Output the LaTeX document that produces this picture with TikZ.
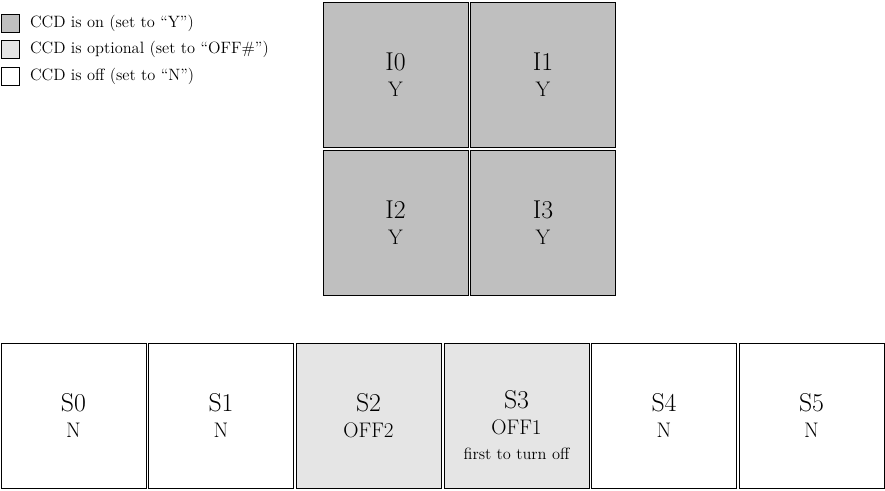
\documentclass[tikz,border=0pt]{standalone}
\begin{document}
\begin{tikzpicture}[x=0.03cm,y=-0.03cm,
 on/.style={draw,fill=black!25},
 opt/.style={draw,fill=black!10},
 off/.style={draw,fill=white},
 ccd/.style={minimum width=4.35cm,minimum height=4.35cm,inner sep=0pt,align=center,font=\fontsize{22}{24}\selectfont},
 leg/.style={minimum width=0.54cm,minimum height=0.54cm,inner sep=0pt},
 legt/.style={anchor=west,font=\fontsize{14}{16}\selectfont}]
\useasboundingbox (0,0) rectangle (885,490);
\newcommand{\sub}[1]{\\[-2pt]{\fontsize{18}{20}\selectfont #1}}
\node[leg,on] (l1) at (10,23) {}; \node[legt] (t1) at (26,23) {CCD is on (set to ``Y'')};
\node[leg,opt] (l2) at (10,49) {}; \node[legt] (t2) at (26,49) {CCD is optional (set to ``OFF\#'')};
\node[leg,off] (l3) at (10,76) {}; \node[legt] (t3) at (26,76) {CCD is off (set to ``N'')};
\node[ccd,on] (i0) at (395.5,74.5) {I0\sub{Y}};
\node[ccd,on] (i1) at (543,74.5) {I1\sub{Y}};
\node[ccd,on] (i2) at (395.5,222.5) {I2\sub{Y}};
\node[ccd,on] (i3) at (543,222.5) {I3\sub{Y}};
\node[ccd,off] (s0) at (73.5,415.5) {S0\sub{N}};
\node[ccd,off] (s1) at (221,415.5) {S1\sub{N}};
\node[ccd,opt] (s2) at (368.5,415.5) {S2\sub{OFF2}};
\node[ccd,opt] (s3) at (516.5,415.5) {\\[8pt]S3\sub{OFF1}\\[-2pt]{\fontsize{14}{16}\selectfont first to turn off}};
\node[ccd,off] (s4) at (664,415.5) {S4\sub{N}};
\node[ccd,off] (s5) at (811.5,415.5) {S5\sub{N}};
\end{tikzpicture}
\end{document}
